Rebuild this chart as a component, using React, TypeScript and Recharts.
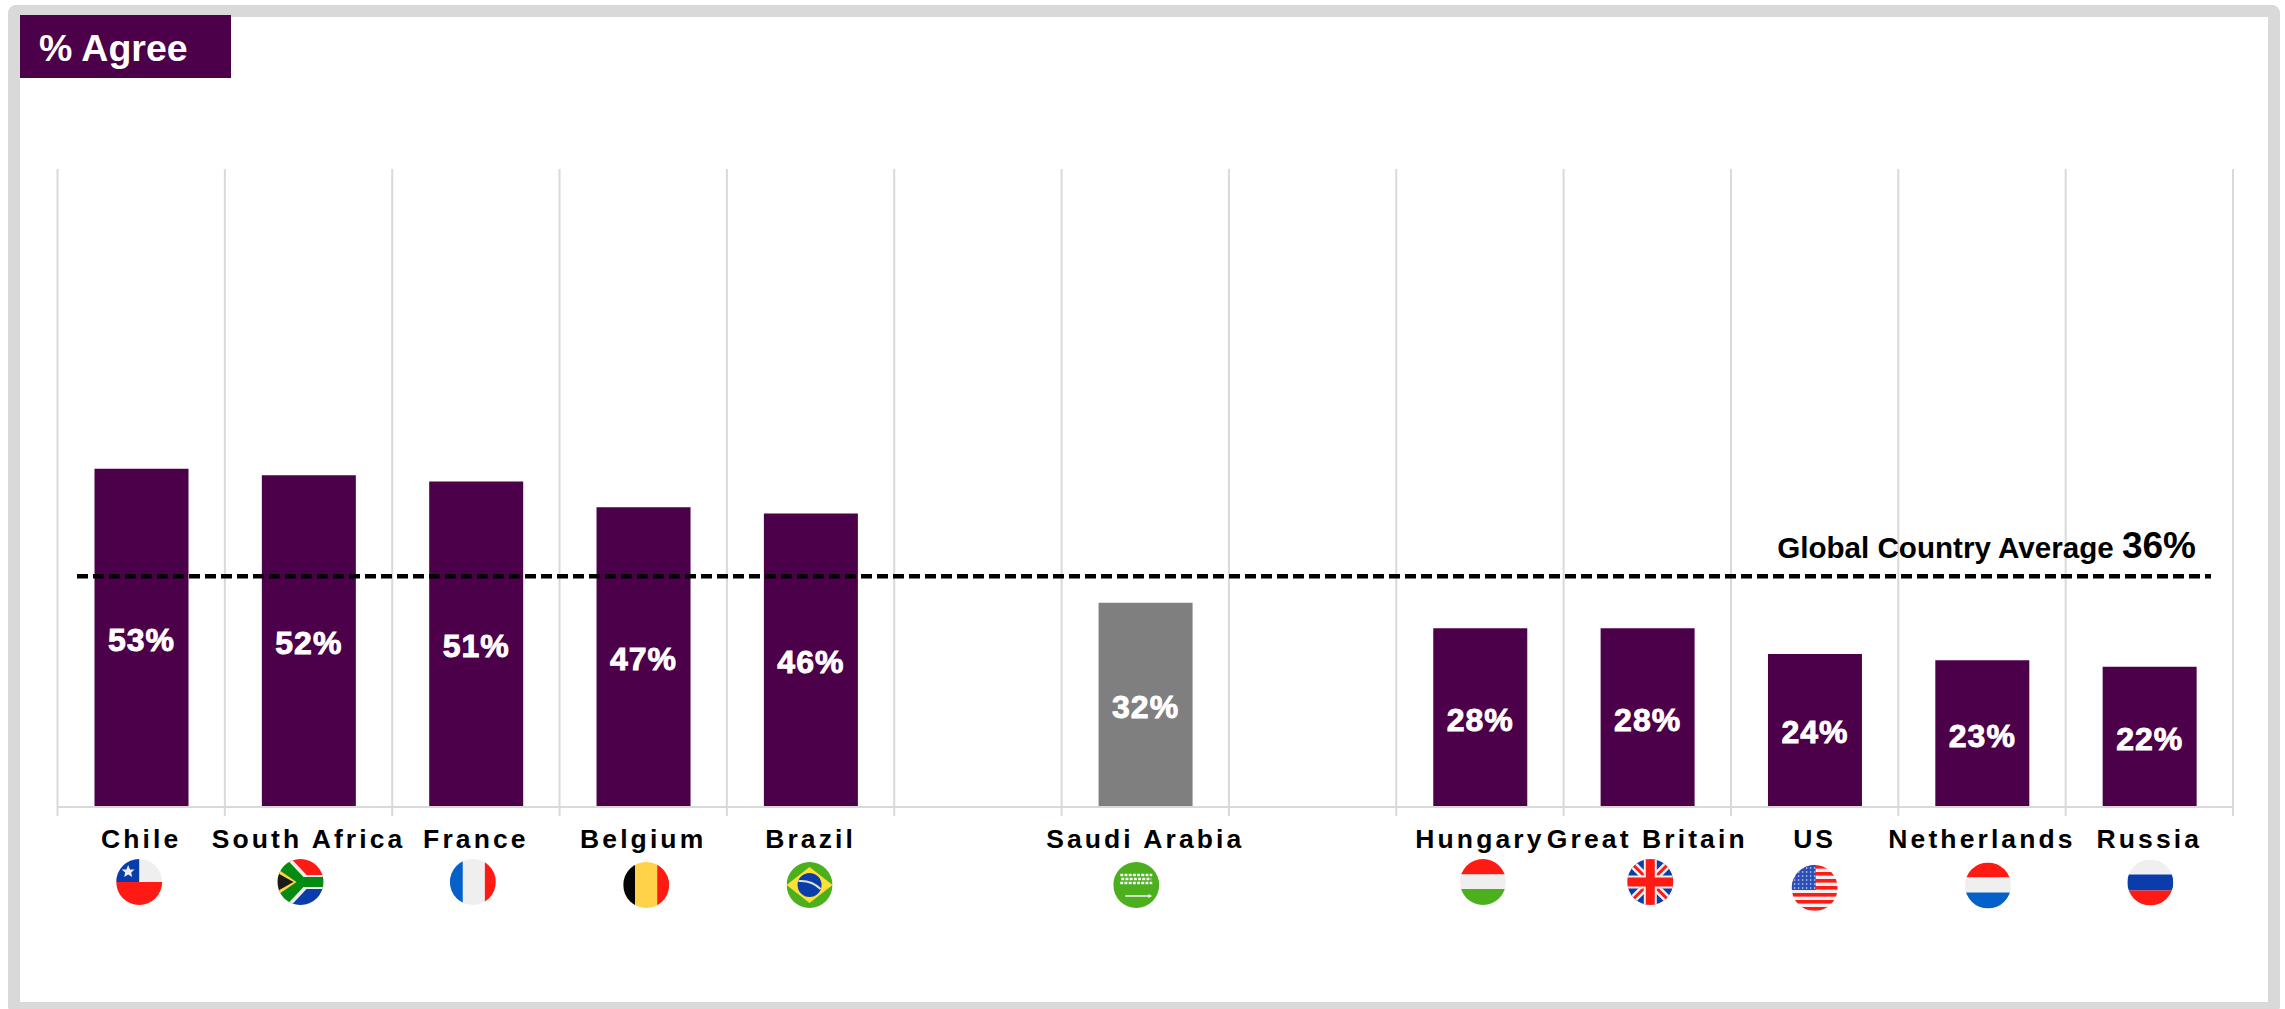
import { useId } from "react";
import {
  BarChart,
  Bar,
  XAxis,
  YAxis,
  CartesianGrid,
  Cell,
  LabelList,
  ReferenceLine,
} from "recharts";

const countries = [
  "Chile",
  "South Africa",
  "France",
  "Belgium",
  "Brazil",
  " ",
  "Saudi Arabia",
  "  ",
  "Hungary",
  "Great Britain",
  "US",
  "Netherlands",
  "Russia",
];
const agree = [53, 52, 51, 47, 46, null, 32, null, 28, 28, 24, 23, 22];
const globalAverage = 36;

const data = countries.map((name, i) => ({ name, agree: agree[i] }));

const PURPLE = "#4B0049";
const GREY_BAR = "#7F7F7F";
const LINE_GREY = "#D9D9D9";
const FONT = '"Liberation Sans", Arial, sans-serif';

const PLOT_LEFT = 57.5;
const PLOT_RIGHT = 2233;
const PLOT_TOP = 169;
const PLOT_BOTTOM = 807;
const SLOT = (PLOT_RIGHT - PLOT_LEFT) / countries.length;

const RED = "#FF1A14";
const WHITE = "#EFEFEF";
const GREEN = "#4CAF1E";
const BLUE = "#0560C9";
const NAVY = "#0A3CAB";
const YELLOW = "#FFD24A";

// flags are hand drawn in a 46x46 box centred on 0,0
const Stripes = ({ colors, sizes }: any) => {
  let top = -23;
  return colors.map((c: string, i: number) => {
    const el = <rect key={i} x={-23} y={top} width={46} height={sizes[i]} fill={c} />;
    top += sizes[i];
    return el;
  });
};

const Bands = ({ colors, sizes }: any) => {
  let left = -23;
  return colors.map((c: string, i: number) => {
    const el = <rect key={i} x={left} y={-23} width={sizes[i]} height={46} fill={c} />;
    left += sizes[i];
    return el;
  });
};

const flagArt: Record<string, any> = {
  Chile: (
    <>
      <rect x={-23} y={-23} width={46} height={23} fill={WHITE} />
      <rect x={-23} y={-23} width={23} height={23} fill={NAVY} />
      <rect x={-23} y={0} width={46} height={23} fill={RED} />
      <polygon
        points="-11,-17 -9.2,-12.5 -4.5,-12.5 -8,-9.5 -7,-5 -11,-7.5 -15,-5 -14,-9.5 -17.5,-12.5 -12.8,-12.5"
        fill={WHITE}
      />
    </>
  ),
  "South Africa": (
    <>
      <rect x={-23} y={-23} width={46} height={23} fill={RED} />
      <rect x={-23} y={0} width={46} height={23} fill={NAVY} />
      <polygon points="-23,-23 -9,-23 6,-7 23,-7 23,7 6,7 -9,23 -23,23" fill={WHITE} />
      <polygon points="-23,-23 -14,-23 3,-5 23,-5 23,5 3,5 -14,23 -23,23" fill="#058A12" />
      <polygon points="-23,-13 -4,0 -23,13" fill={YELLOW} />
      <polygon points="-23,-9 -7,0 -23,9" fill="#1A1A1A" />
    </>
  ),
  France: <Bands colors={[BLUE, WHITE, RED]} sizes={[13, 22, 11]} />,
  Belgium: <Bands colors={["#050505", YELLOW, RED]} sizes={[12, 22, 12]} />,
  Brazil: (
    <>
      <rect x={-23} y={-23} width={46} height={46} fill={GREEN} />
      <polygon points="0,-18 23,0 0,18 -23,0" fill="#FFE033" />
      <circle r={12} fill={NAVY} />
      <path d="M-11,-4 Q2,-5 11,4" stroke="#DDE3C8" strokeWidth={2} fill="none" />
    </>
  ),
  "Saudi Arabia": (
    <>
      <rect x={-23} y={-23} width={46} height={46} fill={GREEN} />
      <path
        d="M-16,-10 H16 M-15,-6 H15 M-16,-2 H16"
        stroke="#F4F4F4"
        strokeWidth={2.6}
        strokeDasharray="3 1.2"
        fill="none"
      />
      <path d="M-11,11 H13" stroke="#F4F4F4" strokeWidth={1.4} />
      <polygon points="12,9 16,11 12,13" fill="#F4F4F4" />
    </>
  ),
  Hungary: <Stripes colors={[RED, WHITE, GREEN]} sizes={[15.5, 14.5, 16]} />,
  "Great Britain": (
    <>
      <rect x={-23} y={-23} width={46} height={46} fill={NAVY} />
      <path d="M-23,-23 L23,23 M23,-23 L-23,23" stroke={WHITE} strokeWidth={8} />
      <path d="M-23,-23 L23,23 M23,-23 L-23,23" stroke={RED} strokeWidth={3} />
      <path d="M0,-23 V23 M-23,0 H23" stroke={WHITE} strokeWidth={13} />
      <path d="M0,-23 V23 M-23,0 H23" stroke={RED} strokeWidth={9} />
    </>
  ),
  US: (
    <>
      <rect x={-23} y={-23} width={46} height={46} fill={WHITE} />
      {[-23, -16, -9, -2, 5, 12, 19].map((y) => (
        <rect key={y} x={-23} y={y} width={46} height={3.6} fill={RED} />
      ))}
      <rect x={-23} y={-23} width={24} height={25} fill="#2A4FB8" />
      {[-20, -16, -12, -8, -4, 0].map((y) =>
        [-20, -16, -12, -8, -4, 0].map((x) => (
          <circle key={`${x}_${y}`} cx={x} cy={y} r={0.8} fill="#DCE4F8" />
        ))
      )}
    </>
  ),
  Netherlands: <Stripes colors={[RED, WHITE, BLUE]} sizes={[15, 15, 16]} />,
  Russia: <Stripes colors={[WHITE, NAVY, RED]} sizes={[15, 16, 15]} />,
};

// small per flag shifts from the slot centre, the flags are not lined up
const flagShift: Record<string, [number, number]> = {
  Chile: [-2, 75],
  "South Africa": [-8, 75],
  France: [-3, 75],
  Belgium: [3, 78],
  Brazil: [-1, 78],
  "Saudi Arabia": [-9, 78],
  Hungary: [3, 75],
  "Great Britain": [3, 75],
  US: [0, 81],
  Netherlands: [6, 78.5],
  Russia: [1, 75.5],
};

const Flag = ({ name, x, y }: any) => {
  const id = useId();
  const art = flagArt[name];
  if (!art) return null;
  const [dx, dy] = flagShift[name];
  return (
    <g transform={`translate(${x + dx},${y + dy})`}>
      <clipPath id={id}>
        <circle r={23} />
      </clipPath>
      <g clipPath={`url(#${id})`}>{art}</g>
    </g>
  );
};

const CountryTick = ({ x, y, payload, index }: any) => {
  const isLast = index === countries.length - 1;
  return (
    <g>
      <line x1={x - SLOT / 2} x2={x - SLOT / 2} y1={y} y2={y + 9} stroke={LINE_GREY} strokeWidth={2} />
      {isLast && (
        <line x1={x + SLOT / 2} x2={x + SLOT / 2} y1={y} y2={y + 9} stroke={LINE_GREY} strokeWidth={2} />
      )}
      <text
        x={x}
        y={y + 41}
        textAnchor="middle"
        fontFamily={FONT}
        fontWeight={700}
        fontSize={26.5}
        letterSpacing={3.1}
        fill="#000"
      >
        {payload.value.trim()}
      </text>
      <Flag name={payload.value} x={x} y={y} />
    </g>
  );
};

const AverageLine = ({ x1, x2, y1, y2 }: any) => (
  <g>
    <line
      x1={x1 + 19.5}
      x2={x2 - 22}
      y1={y1 - 1}
      y2={y2 - 1}
      stroke="#000"
      strokeWidth={4.4}
      strokeDasharray="11 5"
    />
    <text x={2196} y={y1 - 19} textAnchor="end" fontFamily={FONT} fontWeight={700} fill="#000">
      <tspan fontSize={29.6}>Global Country Average </tspan>
      <tspan fontSize={37}>{globalAverage}%</tspan>
    </text>
  </g>
);

const ValueLabel = ({ x, y, width, height, value }: any) => {
  if (value == null) return null;
  return (
    <text
      x={x + width / 2}
      y={y + height / 2 + 13}
      textAnchor="middle"
      fontFamily={FONT}
      fontWeight={700}
      fontSize={32}
      letterSpacing={1}
      fill="#fff"
      stroke="#fff"
      strokeWidth={0.9}
    >
      {value}%
    </text>
  );
};

const App = () => (
  <div
    style={{
      position: "absolute",
      left: 0,
      top: 0,
      width: 2285,
      height: 1009,
      overflow: "hidden",
      background: "#fff",
    }}
  >
    <div
      style={{
        position: "absolute",
        left: 8,
        top: 5,
        width: 2272,
        height: 1009,
        boxSizing: "border-box",
        border: `12px solid ${LINE_GREY}`,
        borderRadius: 8,
      }}
    />
    <BarChart
      width={2285}
      height={1009}
      data={data}
      margin={{ left: PLOT_LEFT, right: 2285 - PLOT_RIGHT, top: PLOT_TOP, bottom: 0 }}
      style={{ position: "absolute", left: 0, top: 0 }}
    >
      <CartesianGrid
        horizontal={false}
        stroke={LINE_GREY}
        strokeWidth={2}
        verticalCoordinatesGenerator={({ offset }: any) =>
          [...countries, ""].map((_c, i) => offset.left + (i * offset.width) / countries.length)
        }
      />
      <XAxis
        dataKey="name"
        interval={0}
        height={1009 - PLOT_BOTTOM}
        tickSize={0}
        tickMargin={0}
        tickLine={false}
        axisLine={{ stroke: LINE_GREY, strokeWidth: 2 }}
        tick={<CountryTick />}
      />
      <YAxis hide domain={[0, 100]} />
      <Bar dataKey="agree" barSize={94} isAnimationActive={false}>
        {data.map((d, index) => (
          <Cell key={`cell-${index}`} fill={d.name === "Saudi Arabia" ? GREY_BAR : PURPLE} />
        ))}
        <LabelList dataKey="agree" content={<ValueLabel />} />
      </Bar>
      <ReferenceLine y={globalAverage} shape={<AverageLine />} />
    </BarChart>
    <div
      style={{
        position: "absolute",
        left: 20,
        top: 15,
        width: 211,
        height: 63,
        background: PURPLE,
        color: "#fff",
        fontFamily: FONT,
        fontWeight: 700,
        fontSize: 37.5,
        lineHeight: "66px",
        paddingLeft: 19,
        boxSizing: "border-box",
      }}
    >
      % Agree
    </div>
  </div>
);

export default App;
